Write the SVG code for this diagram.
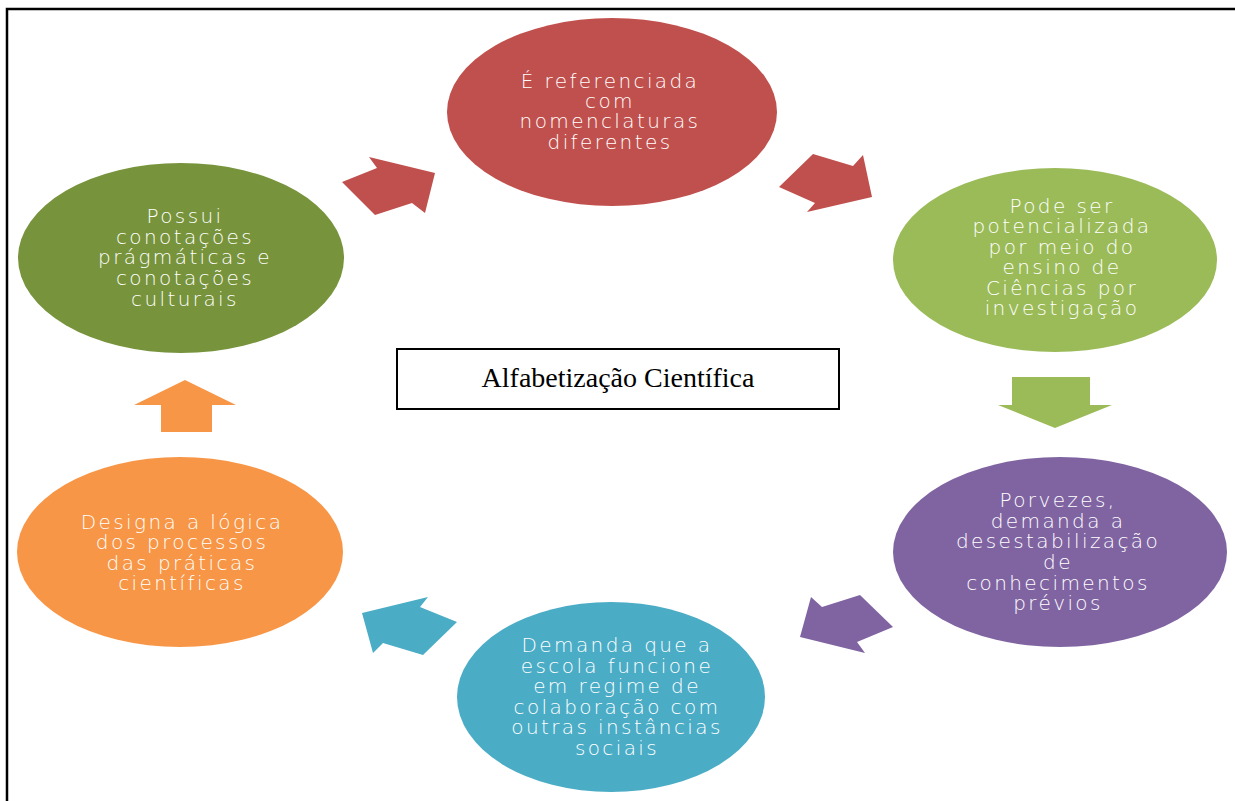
<svg xmlns="http://www.w3.org/2000/svg" width="1235" height="801" viewBox="0 0 1235 801">
<style>
.lbl{font-family:"DejaVu Sans","Liberation Sans",sans-serif;font-size:20px;font-weight:300;fill:#ffffff;text-anchor:middle;letter-spacing:2.4px}
.title{font-family:"Liberation Serif","Times New Roman",serif;font-size:28px;fill:#000;text-anchor:middle}
.frame{stroke:#000;stroke-width:2.5;fill:none}
</style>
<rect width="1235" height="801" fill="#ffffff"/>
<path class="frame" d="M1235 9 H7 V801"/>
<g id="connectors">
<polygon fill="#C0504D" points="342,182 377,168 369,157 435,173 425,213 412,203 375,215"/>
<polygon fill="#C0504D" points="779,187 813,154 853,166 863,155 872,197 807,212 815,203"/>
<polygon fill="#9BBB59" points="1012,377 1090,377 1090,405 1112,405 1055,428 998,405 1012,405"/>
<polygon fill="#8064A2" points="811,597 822,607 860,595 893,627 857,642 865,653 800,637"/>
<polygon fill="#4BACC6" points="362,613 428,597 420,607 457,622 423,655 383,643 373,653"/>
<polygon fill="#F79646" points="185,380 236,405 212,405 212,432 161,432 161,405 134,405"/>
</g>
<g id="node-red">
<ellipse cx="612" cy="112" rx="165" ry="94" fill="#C0504D"/>
<text class="lbl"><tspan x="610" y="88">É referenciada</tspan><tspan x="610" y="108">com</tspan><tspan x="610" y="128">nomenclaturas</tspan><tspan x="610" y="149">diferentes</tspan></text>
</g>
<g id="node-lightgreen">
<ellipse cx="1055" cy="260" rx="162" ry="92" fill="#9BBB59"/>
<text class="lbl"><tspan x="1062" y="213">Pode ser</tspan><tspan x="1062" y="233">potencializada</tspan><tspan x="1062" y="254">por meio do</tspan><tspan x="1062" y="274">ensino de</tspan><tspan x="1062" y="295">Ciências por</tspan><tspan x="1062" y="315">investigação</tspan></text>
</g>
<g id="node-purple">
<ellipse cx="1060" cy="552" rx="167" ry="95" fill="#8064A2"/>
<text class="lbl"><tspan x="1058" y="507">Porvezes,</tspan><tspan x="1058" y="528">demanda a</tspan><tspan x="1058" y="548">desestabilização</tspan><tspan x="1058" y="569">de</tspan><tspan x="1058" y="590">conhecimentos</tspan><tspan x="1058" y="610">prévios</tspan></text>
</g>
<g id="node-teal">
<ellipse cx="611" cy="697" rx="154" ry="95" fill="#4BACC6"/>
<text class="lbl"><tspan x="617" y="652">Demanda que a</tspan><tspan x="617" y="673">escola funcione</tspan><tspan x="617" y="693">em regime de</tspan><tspan x="617" y="714">colaboração com</tspan><tspan x="617" y="734">outras instâncias</tspan><tspan x="617" y="755">sociais</tspan></text>
</g>
<g id="node-orange">
<ellipse cx="180" cy="552" rx="163" ry="95" fill="#F79646"/>
<text class="lbl"><tspan x="182" y="529">Designa a lógica</tspan><tspan x="182" y="549">dos processos</tspan><tspan x="182" y="570">das práticas</tspan><tspan x="182" y="590">científicas</tspan></text>
</g>
<g id="node-olive">
<ellipse cx="181" cy="258" rx="163" ry="95" fill="#77933C"/>
<text class="lbl"><tspan x="185" y="223">Possui</tspan><tspan x="185" y="244">conotações</tspan><tspan x="185" y="264">prágmáticas e</tspan><tspan x="185" y="285">conotações</tspan><tspan x="185" y="306">culturais</tspan></text>
</g>
<g id="node-center">
<rect x="397" y="349" width="442" height="60" fill="#ffffff" stroke="#000" stroke-width="2"/>
<text class="title" x="618" y="387">Alfabetização Científica</text>
</g>
</svg>
